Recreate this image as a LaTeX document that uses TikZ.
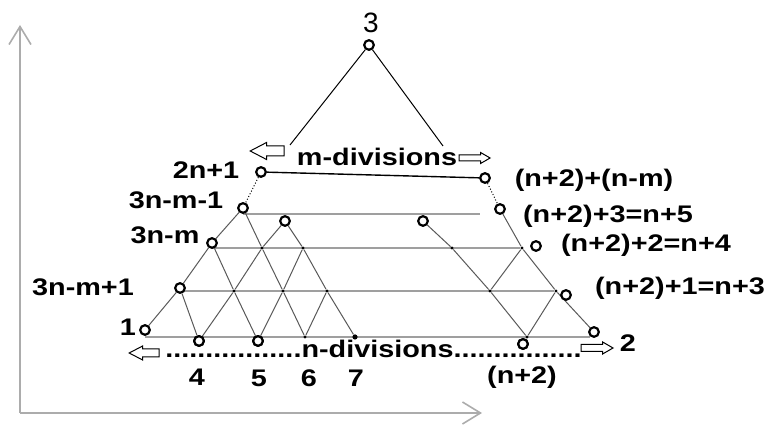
\documentclass[tikz,border=0pt]{standalone}
\usepackage{fontspec}
\setmainfont{Liberation Sans}[FakeStretch=1.2]
\newfontfamily\apexfont{Liberation Sans}
\usetikzlibrary{arrows.meta, positioning, backgrounds, shapes.arrows}

\begin{document}
\begin{tikzpicture}[x=0.5pt, y=-0.5pt,
  vertex/.style={circle, draw, fill=white, line width=1.1pt,
    inner sep=0pt, minimum size=4.8pt},
  junction/.style={circle, fill, inner sep=0pt, minimum size=1.6pt},
  lbl/.style={font=\fontsize{12}{14}\selectfont\bfseries, inner sep=0pt},
  grid/.style={gray!70!black, line width=0.5pt},
  row/.style={gray!75, line width=1pt},
  edge/.style={black, line width=0.5pt},
  axis/.style={gray!65, line width=1pt,
    -{Straight Barb[length=9pt, width=11pt, line width=0.8pt]}},
  hollow/.style={single arrow, draw, fill=white, line width=0.5pt,
    inner xsep=0pt, inner ysep=#1, minimum width=0pt}
]
  \useasboundingbox (0,0) rectangle (772,426);

  %% axes
  \coordinate (O) at (20,413);
  \coordinate (ytop) at (20,25);
  \coordinate (xend) at (482,413);
  \draw[axis] (O) -- (ytop);
  \draw[axis] (O) -- (xend);

  %% apex and m-divisions
  \node[vertex] (apex) at (369,45) {};
  \node[font=\apexfont\fontsize{14}{16}\selectfont, inner sep=0pt] (apexl) at (371,23) {3};
  \coordinate (sl) at (290,145);
  \coordinate (sr) at (443,146);

  \node[hollow=2.25pt, minimum height=17pt, single arrow head extend=1.75pt,
    single arrow tip angle=55, shape border rotate=180] (mL) at (272,151) {};
  \node[hollow=1.25pt, minimum height=15.5pt, single arrow head extend=1.25pt,
    single arrow tip angle=60] (mR) at (472,158) {};
  \node[lbl] (mdiv) at (377,157) {m-divisions};

  %% outer nodes, left side
  \node[vertex] (t1) at (261,172) {};
  \node[vertex] (L3) at (243,208) {};
  \node[vertex] (L2) at (212,243) {};
  \node[vertex] (L1) at (180,288) {};
  \node[vertex] (n1) at (145,330) {};
  \node[vertex] (a1) at (285,221) {};
  \node[vertex] (n4) at (199,341) {};
  \node[vertex] (n5) at (258,341) {};

  %% outer nodes, right side
  \node[vertex] (t2) at (485,178) {};
  \node[vertex] (rB) at (500,209) {};
  \node[vertex] (ra1) at (423,221) {};
  \node[vertex] (rR2) at (536,246) {};
  \node[vertex] (rR1) at (566,295) {};
  \node[vertex] (n2) at (594,332) {};
  \node[vertex] (np2) at (523,344) {};

  %% inner crossings
  \node[junction] (b1) at (262,248) {};
  \node[junction] (b2) at (303,248) {};
  \node[junction] (c1) at (234,291) {};
  \node[junction] (c2) at (283,291) {};
  \node[junction] (c3) at (327,291) {};
  \node[junction] (d3) at (305,337) {};
  \node[junction, minimum size=2.6pt] (d4) at (355,337) {};
  \node[junction] (rb1) at (452,248) {};
  \node[junction] (rb2) at (522,248) {};
  \node[junction] (rc1) at (490,291) {};
  \node[junction] (rc2) at (556,291) {};
  \node[junction] (rd1) at (527,337) {};

  \coordinate (ea) at (480,214);
  \coordinate (ed) at (590,337);

  \begin{scope}[on background layer]
    %% rows
    \draw[row] (L3 |- ea) -- (ea);
    \draw[row] (L2 |- rb2) -- (rb2);
    \draw[row] (L1 |- rc2) -- (rc2);
    \draw[row] (n1 |- ed) -- (ed);
    %% left lattice
    \draw[grid] (n1) -- (L1) -- (L2) -- (L3);
    \draw[grid] (L3) -- (b1) -- (c2) -- (d3);
    \draw[grid] (a1) -- (b2) -- (c3) -- (d4);
    \draw[grid] (L2) -- (c1) -- (n5);
    \draw[grid] (L1) -- (n4);
    \draw[grid] (a1) -- (b1) -- (c1) -- (n4);
    \draw[grid] (b2) -- (c2) -- (n5);
    \draw[grid] (c3) -- (d3);
    %% right lattice
    \draw[grid] (ra1) -- (rb1) -- (rc1) -- (rd1);
    \draw[grid] (rB) -- (rb2) -- (rc2) -- (n2);
    \draw[grid] (rc1) -- (rb2);
    \draw[grid] (rd1) -- (rc2);
    \draw[grid] (rd1) -- (np2);
  \end{scope}

  %% top edges
  \draw[edge] (apex) -- (sl);
  \draw[edge] (apex) -- (sr);
  \draw[edge, line width=0.7pt] (t1) -- (t2);
  \draw[edge, densely dotted] (t1) -- (L3);
  \draw[edge, densely dotted] (t2) -- (rB);

  %% n-divisions
  \node[lbl, anchor=base west] (ndiv) at (165,358)
    {.................n-divisions................};
  \node[hollow=1.75pt, minimum height=15pt, single arrow head extend=1.5pt,
    single arrow tip angle=55, shape border rotate=180] (nL) at (148,353) {};
  \node[hollow=1.5pt, minimum height=16pt, single arrow head extend=1.25pt,
    single arrow tip angle=60] (nR) at (594,348) {};
  \node[vertex] at (n4) {};
  \node[vertex] at (n5) {};
  \node[vertex] at (np2) {};

  %% labels
  \node[lbl] (lt1) at (206,170) {2n+1};
  \node[lbl] (lL3) at (176,200) {3n-m-1};
  \node[lbl] (lL2) at (165,235) {3n-m};
  \node[lbl] (lL1) at (83,287) {3n-m+1};
  \node[lbl] (ln1) at (128,327) {1};
  \node[lbl] (lt2) at (594,180) {(n+2)+(n-m)};
  \node[lbl] (lrB) at (608,216) {(n+2)+3=n+5};
  \node[lbl] (lrR2) at (646,245) {(n+2)+2=n+4};
  \node[lbl] (lrR1) at (680,288) {(n+2)+1=n+3};
  \node[lbl] (ln2) at (628,343) {2};
  \node[lbl] (ln4) at (197,377) {4};
  \node[lbl] (ln5) at (259,378) {5};
  \node[lbl] (ln6) at (309,378) {6};
  \node[lbl] (ln7) at (356,378) {7};
  \node[lbl] (lnp2) at (522,377) {(n+2)};
\end{tikzpicture}
\end{document}
